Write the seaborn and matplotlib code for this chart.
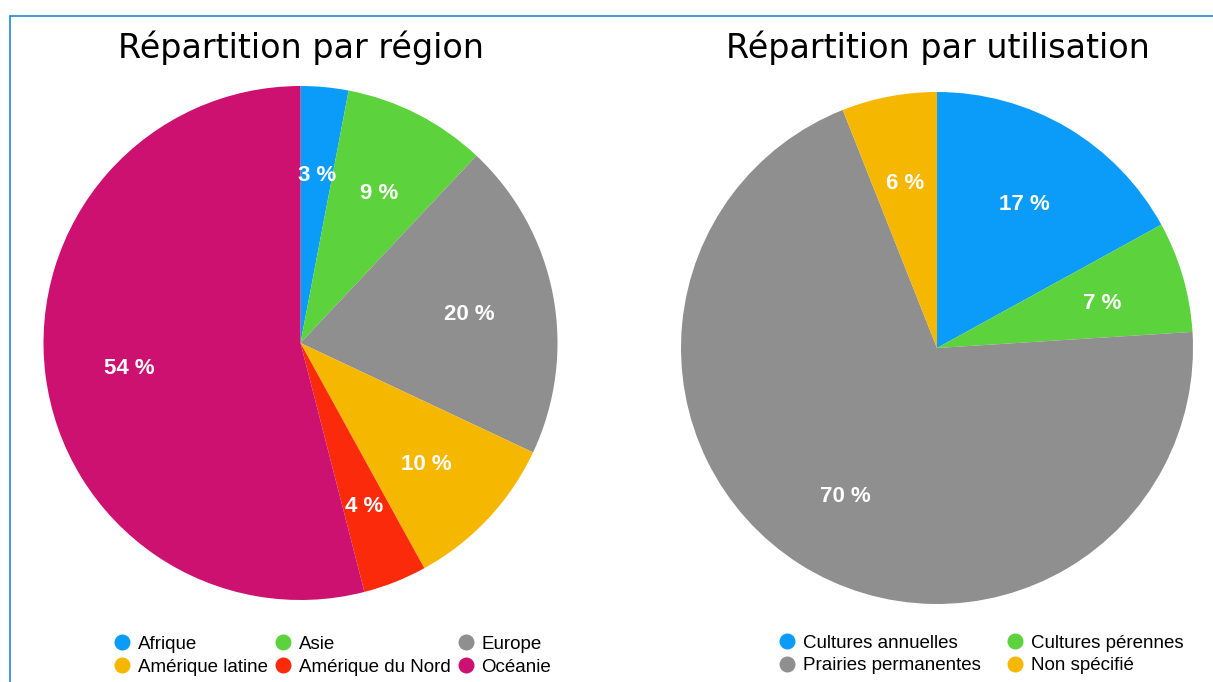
import matplotlib
matplotlib.use('Agg')
import matplotlib.pyplot as plt
from matplotlib.lines import Line2D
from matplotlib.patches import Rectangle
import seaborn as sns

# data
regions = ['Afrique', 'Asie', 'Europe', 'Amérique latine', 'Amérique du Nord', 'Océanie']
region_pct = [3, 9, 20, 10, 4, 54]
region_colors = ['#0A9CF8', '#5CD23C', '#8F8F8F', '#F5B700', '#FA2A0A', '#CC1170']

usages = ['Cultures annuelles', 'Cultures pérennes', 'Prairies permanentes', 'Non spécifié']
usage_pct = [17, 7, 70, 6]
usage_colors = ['#0A9CF8', '#5CD23C', '#8F8F8F', '#F5B700']

sns.set_style('white')
plt.rcParams['font.family'] = ['Liberation Sans', 'DejaVu Sans']

fig = plt.figure(figsize=(12.13, 6.82), dpi=100)


def draw_pie(rect, values, colors, names, legend_order, ncol, legend_xy, colspace):
    ax = fig.add_axes(rect)
    wedges, texts, autotexts = ax.pie(
        values, colors=colors, startangle=90, counterclock=False,
        autopct=lambda p: f'{p:.0f} %', pctdistance=0.67,
        wedgeprops={'linewidth': 0},
        textprops={'color': 'white', 'fontsize': 16, 'fontweight': 'bold'})
    # labels sit a touch lower in the original
    for t in autotexts:
        x, y = t.get_position()
        t.set_position((x, y - 0.015))
    ax.set_xlim(-1, 1)
    ax.set_ylim(-1, 1)
    ax.set_aspect('equal')
    ax.axis('off')
    handles = [Line2D([], [], marker='o', linestyle='', markersize=11.5,
                      markerfacecolor=colors[i], markeredgewidth=0)
               for i in legend_order]
    labels = [names[i] for i in legend_order]
    ax.legend(handles, labels, ncol=ncol, loc='upper center',
              bbox_to_anchor=legend_xy, frameon=False, fontsize=13.5,
              handlelength=0.9, handletextpad=0.4, columnspacing=colspace,
              labelspacing=0.3, borderaxespad=0, labelcolor='black')
    return ax


draw_pie([43 / 1213, 1 - 600 / 682, 515 / 1213, 514 / 682],
         region_pct, region_colors, regions, [0, 3, 1, 4, 2, 5], 3, (0.562, -0.055), 0.35)
draw_pie([681 / 1213, 1 - 604 / 682, 512 / 1213, 512 / 682],
         usage_pct, usage_colors, usages, [0, 2, 1, 3], 2, (0.586, -0.045), 1.35)

fig.text(301 / 1213, 1 - 48 / 682, 'Répartition par région', ha='center', va='center',
         fontsize=24, color='black', family=['DejaVu Sans'])
fig.text(938 / 1213, 1 - 48 / 682, 'Répartition par utilisation', ha='center', va='center',
         fontsize=24, color='black', family=['DejaVu Sans'])

# thin blue frame (only left and top edges visible)
fig.add_artist(Rectangle((10 / 1213, -0.1), 1.2, 1 - 16 / 682 + 0.1,
                         transform=fig.transFigure, fill=False,
                         edgecolor='#1E88D8', linewidth=1.2, clip_on=False))

fig.savefig('out.png', dpi=100)
